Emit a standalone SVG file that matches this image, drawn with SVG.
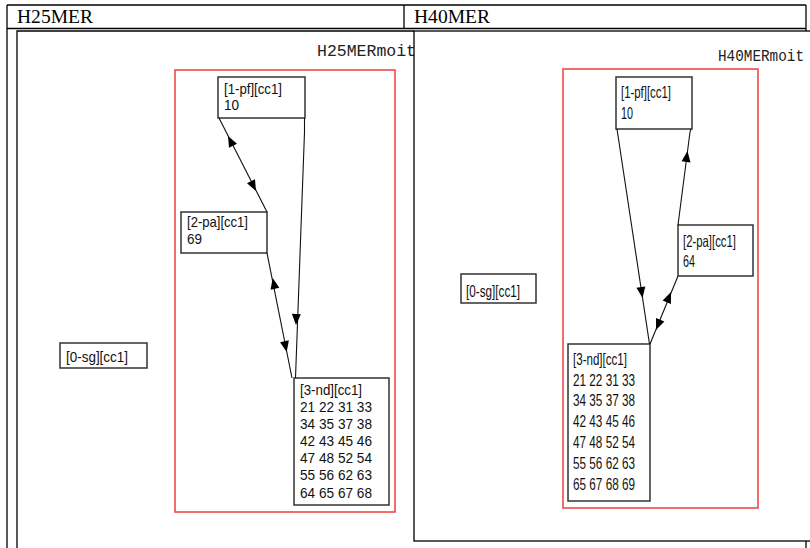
<svg xmlns="http://www.w3.org/2000/svg" xmlns:xlink="http://www.w3.org/1999/xlink" width="810" height="548" viewBox="0 0 810 548">
<style>
.tbl{fill:none;stroke:#000;stroke-width:1.3}
.img{fill:#fff;stroke:#000;stroke-width:1.3}
.hdr{font-family:"Liberation Serif","Times New Roman",serif;font-size:19px;fill:#000}
.ttl{font-family:"Liberation Mono","Courier New",monospace;font-size:16px;fill:#222}
.red{fill:none;stroke:#f03c3c;stroke-width:1.5}
.nb{fill:#fff;stroke:#333;stroke-width:1.5}
.ls{font-family:"Liberation Sans",Arial,sans-serif;font-size:14.5px;fill:#111}
.rs{font-family:"Liberation Sans",Arial,sans-serif;font-size:16.5px;fill:#111}
.edge{fill:none;stroke:#111;stroke-width:1.1}
.ah{fill:#000}
</style>
<defs>
<path id="ah" class="ah" d="M0,0 L-11,-4.5 L-11,4.5 Z"/>
</defs>
<rect width="810" height="548" fill="#fff"/>
<g id="table">
<line class="tbl" x1="7" y1="5" x2="806" y2="5"/>
<line class="tbl" x1="7" y1="28.5" x2="806" y2="28.5"/>
<line class="tbl" x1="7" y1="5" x2="7" y2="548"/>
<line class="tbl" x1="404" y1="5" x2="404" y2="28.5"/>
<line class="tbl" x1="806" y1="5" x2="806" y2="548"/>
<text class="hdr" x="17" y="23" textLength="76" lengthAdjust="spacingAndGlyphs">H25MER</text>
<text class="hdr" x="414" y="23" textLength="76" lengthAdjust="spacingAndGlyphs">H40MER</text>
</g>
<g id="image-left">
<rect x="17" y="31" width="397" height="520" fill="#fff"/>
<path class="tbl" d="M414,31 H17 V548"/>
<text class="ttl" x="317" y="56" textLength="99" lengthAdjust="spacingAndGlyphs">H25MERmoit</text>
<rect class="red" x="175" y="70" width="220" height="442"/>
</g>
<g id="left-0sg">
<rect class="nb" x="60" y="343" width="87" height="25"/>
<text class="ls" x="66" y="362" textLength="62" lengthAdjust="spacingAndGlyphs">[0-sg][cc1]</text>
</g>
<g id="left-1pf">
<rect class="nb" x="218" y="77" width="87" height="41"/>
<text class="ls" x="224" y="93.5" textLength="58" lengthAdjust="spacingAndGlyphs">[1-pf][cc1]</text>
<text class="ls" x="224" y="110" textLength="15" lengthAdjust="spacingAndGlyphs">10</text>
</g>
<g id="left-2pa">
<rect class="nb" x="181" y="212" width="86" height="41"/>
<text class="ls" x="187" y="227" textLength="61" lengthAdjust="spacingAndGlyphs">[2-pa][cc1]</text>
<text class="ls" x="187" y="244" textLength="15" lengthAdjust="spacingAndGlyphs">69</text>
</g>
<g id="left-3nd">
<rect class="nb" x="294" y="378" width="95" height="127"/>
<text class="ls" x="300" y="395" textLength="62" lengthAdjust="spacingAndGlyphs">[3-nd][cc1]</text>
<text class="ls" x="300" y="412" textLength="72" lengthAdjust="spacingAndGlyphs">21 22 31 33</text>
<text class="ls" x="300" y="429" textLength="72" lengthAdjust="spacingAndGlyphs">34 35 37 38</text>
<text class="ls" x="300" y="446" textLength="72" lengthAdjust="spacingAndGlyphs">42 43 45 46</text>
<text class="ls" x="300" y="463" textLength="72" lengthAdjust="spacingAndGlyphs">47 48 52 54</text>
<text class="ls" x="300" y="480" textLength="72" lengthAdjust="spacingAndGlyphs">55 56 62 63</text>
<text class="ls" x="300" y="497.5" textLength="72" lengthAdjust="spacingAndGlyphs">64 65 67 68</text>
</g>
<g id="connectors-left">
<path class="edge" d="M219,118 L267,212"/>
<path class="edge" d="M304.5,118 L304.5,132 L295.5,378"/>
<path class="edge" d="M267,253 L292,378"/>
<use xlink:href="#ah" transform="translate(256,191) rotate(62.9)"/>
<use xlink:href="#ah" transform="translate(228,136) rotate(242.9)"/>
<use xlink:href="#ah" transform="translate(296,325) rotate(91.9)"/>
<use xlink:href="#ah" transform="translate(272.7,278) rotate(258.2)"/>
<use xlink:href="#ah" transform="translate(286.7,352) rotate(78.2)"/>
</g>
<g id="image-right">
<rect class="img" x="414" y="31" width="420" height="510"/>
<text class="ttl" x="718" y="61" textLength="86" lengthAdjust="spacingAndGlyphs">H40MERmoit</text>
<rect class="red" x="563" y="69" width="195" height="439"/>
</g>
<g id="right-0sg">
<rect class="nb" x="461" y="274" width="75" height="29"/>
<text class="rs" x="466" y="296.5" textLength="54" lengthAdjust="spacingAndGlyphs">[0-sg][cc1]</text>
</g>
<g id="right-1pf">
<rect class="nb" x="616" y="77" width="76" height="52"/>
<text class="rs" x="621" y="98" textLength="50" lengthAdjust="spacingAndGlyphs">[1-pf][cc1]</text>
<text class="rs" x="621" y="118.5" textLength="12" lengthAdjust="spacingAndGlyphs">10</text>
</g>
<g id="right-2pa">
<rect class="nb" x="678" y="225" width="75" height="51"/>
<text class="rs" x="683" y="247" textLength="53" lengthAdjust="spacingAndGlyphs">[2-pa][cc1]</text>
<text class="rs" x="683" y="267" textLength="12" lengthAdjust="spacingAndGlyphs">64</text>
</g>
<g id="right-3nd">
<rect class="nb" x="568" y="344" width="82" height="157"/>
<text class="rs" x="573" y="365" textLength="54" lengthAdjust="spacingAndGlyphs">[3-nd][cc1]</text>
<text class="rs" x="573" y="385.5" textLength="62" lengthAdjust="spacingAndGlyphs">21 22 31 33</text>
<text class="rs" x="573" y="406" textLength="62" lengthAdjust="spacingAndGlyphs">34 35 37 38</text>
<text class="rs" x="573" y="427" textLength="62" lengthAdjust="spacingAndGlyphs">42 43 45 46</text>
<text class="rs" x="573" y="447.5" textLength="62" lengthAdjust="spacingAndGlyphs">47 48 52 54</text>
<text class="rs" x="573" y="468.5" textLength="62" lengthAdjust="spacingAndGlyphs">55 56 62 63</text>
<text class="rs" x="573" y="489.5" textLength="62" lengthAdjust="spacingAndGlyphs">65 67 68 69</text>
</g>
<g id="connectors-right">
<path class="edge" d="M617,129 L649.5,344"/>
<path class="edge" d="M650,344 L678,276"/>
<path class="edge" d="M678,225 L690,132 L691,129"/>
<use xlink:href="#ah" transform="translate(642.5,298) rotate(81.5)"/>
<use xlink:href="#ah" transform="translate(671,292) rotate(-67.6)"/>
<use xlink:href="#ah" transform="translate(656,330) rotate(112.4)"/>
<use xlink:href="#ah" transform="translate(687.5,151) rotate(-82.3)"/>
</g>
</svg>
